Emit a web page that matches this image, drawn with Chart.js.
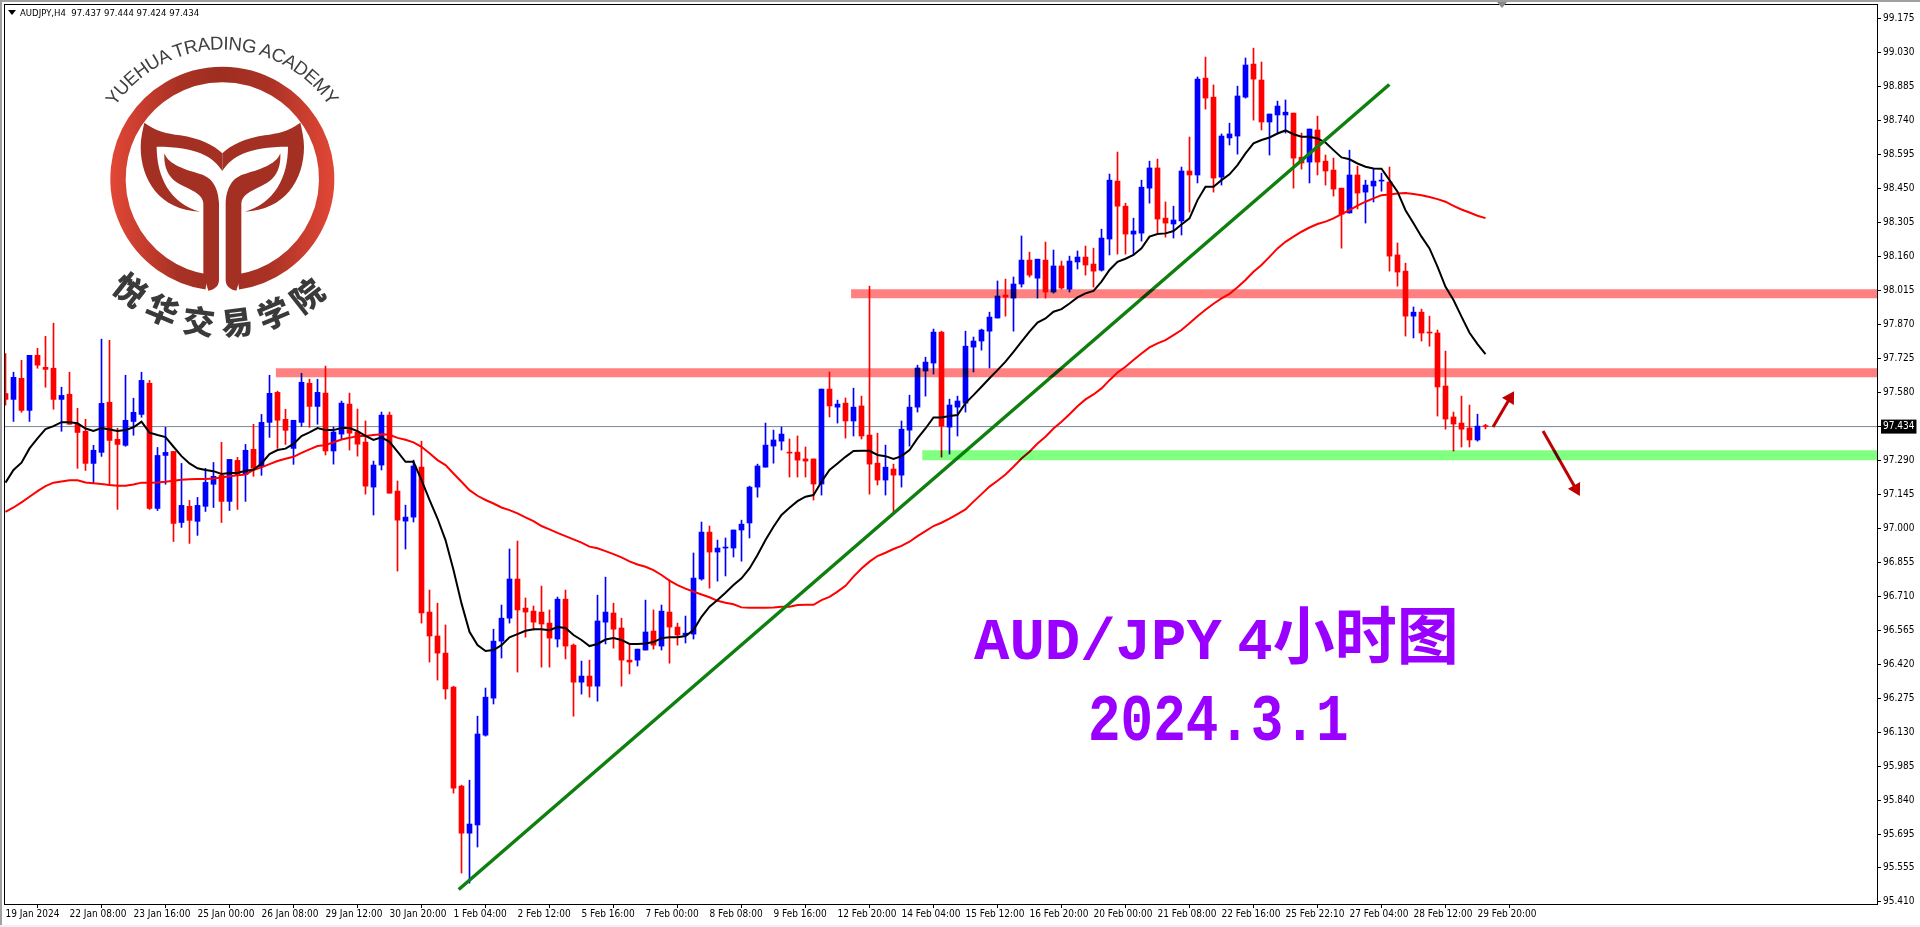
<!DOCTYPE html>
<html>
<head>
<meta charset="utf-8">
<title>AUD/JPY H4</title>
<script src="https://cdn.jsdelivr.net/npm/chart.js@4"></script>
<style>
html, body { margin: 0; padding: 0; background: #fff; width: 1920px; height: 927px; overflow: hidden; }
canvas { position: absolute; left: 0; top: 0; }
.winTop { position: absolute; left: 0; top: 0; width: 1920px; height: 2px; background: #a0a0a0; }
.winLeft { position: absolute; left: 0; top: 0; width: 2px; height: 925px; background: #a0a0a0; }
.winBottom { position: absolute; left: 0; top: 925px; width: 1920px; height: 2px; background: #f0f0f0; }
.shiftMark { position: absolute; left: 1497px; top: 2px; border-left: 5px solid transparent; border-right: 5px solid transparent; border-top: 6px solid #8a8a8a; }
.headerMark { position: absolute; left: 8px; top: 10px; border-left: 4px solid transparent; border-right: 4px solid transparent; border-top: 5px solid #000; }
#header { position: absolute; left: 20px; top: 6px; font: 9.5px "DejaVu Sans Condensed", "Liberation Sans", sans-serif; line-height: 13px; color: #000; white-space: pre; }
.bigTitle { position: absolute; font-family: "Liberation Mono", "Noto Sans CJK SC", monospace; font-weight: bold; font-size: 59px; line-height: 70px; color: #9900ff; white-space: pre; transform-origin: left center; }
.bigTitle .cjk { font-family: "Noto Sans CJK SC", sans-serif; font-size: 62px; }
#logo { position: absolute; left: 0; top: 0; }
</style>
</head>
<body>
<canvas id="myChart" width="1920" height="927"></canvas>
<div class="winTop"></div>
<div class="winLeft"></div>
<div class="winBottom"></div>
<div class="shiftMark"></div>
<div class="headerMark"></div>
<div id="header"></div>
<div class="bigTitle" style="left:974px; top:597px; word-spacing:-20px;">AUD/JPY 4<span class="cjk">小时图</span></div>
<div class="bigTitle" style="left:1088px; top:688px; transform:scale(0.92,1.13);">2024.3.1</div>

<svg id="logo" width="400" height="360" viewBox="0 0 1200 1080" xmlns="http://www.w3.org/2000/svg">
    <defs>
        <linearGradient id="ringGrad" gradientUnits="userSpaceOnUse" x1="331" y1="0" x2="1003" y2="0">
            <stop offset="0" stop-color="#e24736"/>
            <stop offset="0.3" stop-color="#a93225"/>
            <stop offset="0.5" stop-color="#9e2e20"/>
            <stop offset="0.7" stop-color="#a93225"/>
            <stop offset="1" stop-color="#e24736"/>
        </linearGradient>
        <path id="topArc" d="M345 320 A388 388 0 0 1 989 320" fill="none"/>
        <path id="bottomArc" d="M308 838 A468 468 0 0 0 1026 838" fill="none"/>
    </defs>
    <path d="M620 846 A313 313 0 1 1 714 846" fill="none" stroke="url(#ringGrad)" stroke-width="46"/>
    <g id="logoHalf" fill="#a33022">
        <path d="M610 610 L610 822 L625 872 C640 870 657 860 657 840 L657 610 C655 555 630 530 600 522 C560 510 505 495 493 460 C490 520 520 545 550 558 C585 575 608 585 610 610 Z"/>
        <path d="M433 368 C470 395 500 400 540 406 C600 415 640 435 667 460 L667 513 C640 470 590 440 470 440 C470 530 510 610 600 635 C480 630 422 540 422 440 C422 415 428 390 433 368 Z"/>
    </g>
    <use href="#logoHalf" transform="translate(1334 0) scale(-1 1)"/>
    <text font-family="Liberation Sans" font-size="56" fill="#404040">
        <textPath href="#topArc" textLength="758" lengthAdjust="spacing">YUEHUA TRADING ACADEMY</textPath>
    </text>
    <text font-family="Noto Sans CJK SC" font-weight="900" font-size="96" fill="#3a3a3a" letter-spacing="28" text-anchor="middle">
        <textPath href="#bottomArc" startOffset="50%">悦华交易学院</textPath>
    </text>
</svg>

<script>
var symbolName = "AUDJPY,H4";

var timeTickLabels = ["19 Jan 2024", "22 Jan 08:00", "23 Jan 16:00", "25 Jan 00:00", "26 Jan 08:00", "29 Jan 12:00",
    "30 Jan 20:00", "1 Feb 04:00", "2 Feb 12:00", "5 Feb 16:00", "7 Feb 00:00", "8 Feb 08:00", "9 Feb 16:00",
    "12 Feb 20:00", "14 Feb 04:00", "15 Feb 12:00", "16 Feb 20:00", "20 Feb 00:00", "21 Feb 08:00", "22 Feb 16:00",
    "25 Feb 22:10", "27 Feb 04:00", "28 Feb 12:00", "29 Feb 20:00"];
var barsPerTimeTick = 8;

var priceTicks = [99.175, 99.030, 98.885, 98.740, 98.595, 98.450, 98.305, 98.160, 98.015, 97.870, 97.725, 97.580,
    97.434, 97.290, 97.145, 97.000, 96.855, 96.710, 96.565, 96.420, 96.275, 96.130, 95.985, 95.840, 95.695, 95.555, 95.410];

var opens = [97.575,97.550,97.640,97.503,97.738,97.687,97.683,97.550,97.572,97.444,
    97.414,97.277,97.324,97.538,97.380,97.354,97.456,97.486,97.619,97.085,
    97.311,97.328,97.025,97.094,97.030,97.094,97.188,97.226,97.115,97.290,
    97.230,97.337,97.264,97.452,97.580,97.465,97.341,97.452,97.619,97.520,
    97.577,97.330,97.402,97.530,97.411,97.368,97.176,97.270,97.483,97.159,
    97.031,97.048,97.261,96.643,96.541,96.468,96.323,95.901,95.700,95.735,
    96.118,96.276,96.519,96.617,96.784,96.660,96.647,96.643,96.596,96.528,
    96.698,96.502,96.344,96.370,96.327,96.600,96.639,96.575,96.438,96.438,
    96.481,96.562,96.498,96.643,96.579,96.545,96.549,96.784,96.984,96.899,
    96.916,96.916,96.993,97.023,97.176,97.261,97.351,97.372,97.325,97.325,
    97.296,97.296,97.189,97.594,97.517,97.534,97.458,97.522,97.398,97.278,
    97.206,97.253,97.227,97.419,97.517,97.671,97.705,97.837,97.432,97.517,
    97.534,97.773,97.799,97.841,97.897,97.995,97.982,98.042,98.144,98.067,
    98.144,98.008,98.119,98.020,98.136,98.157,98.127,98.101,98.234,98.481,
    98.374,98.255,98.259,98.451,98.537,98.323,98.298,98.311,98.524,98.507,
    98.920,98.839,98.498,98.665,98.673,98.839,98.980,98.912,98.733,98.763,
    98.763,98.771,98.583,98.562,98.699,98.566,98.528,98.451,98.345,98.507,
    98.434,98.460,98.481,98.477,98.166,98.097,97.905,97.922,97.837,97.833,
    97.607,97.475,97.449,97.428,97.377,97.437];

var highs = [97.745,97.666,97.717,97.738,97.768,97.819,97.875,97.602,97.666,97.512,
    97.465,97.354,97.807,97.802,97.427,97.653,97.555,97.666,97.631,97.345,
    97.431,97.328,97.277,97.119,97.132,97.256,97.281,97.367,97.294,97.303,
    97.358,97.444,97.486,97.653,97.585,97.508,97.461,97.661,97.636,97.636,
    97.692,97.432,97.543,97.577,97.509,97.458,97.287,97.496,97.496,97.202,
    97.099,97.291,97.372,96.737,96.681,96.588,96.327,95.905,95.926,96.199,
    96.319,96.570,96.673,96.912,96.946,96.703,96.669,96.754,96.652,96.707,
    96.737,96.507,96.434,96.438,96.715,96.792,96.681,96.617,96.507,96.485,
    96.694,96.652,96.673,96.779,96.596,96.626,96.895,97.027,97.010,96.950,
    96.959,96.993,97.035,97.180,97.274,97.449,97.419,97.432,97.381,97.394,
    97.347,97.296,97.594,97.667,97.547,97.556,97.598,97.564,98.033,97.406,
    97.355,97.274,97.458,97.568,97.696,97.730,97.850,97.841,97.551,97.564,
    97.841,97.816,97.850,97.922,98.055,98.063,98.072,98.247,98.178,98.148,
    98.221,98.187,98.140,98.161,98.183,98.204,98.195,98.276,98.511,98.605,
    98.387,98.323,98.485,98.566,98.575,98.392,98.374,98.541,98.669,98.925,
    99.010,98.891,98.682,98.728,98.886,99.006,99.048,98.989,98.767,98.822,
    98.827,98.771,98.686,98.703,98.758,98.592,98.579,98.451,98.613,98.545,
    98.485,98.532,98.515,98.541,98.217,98.131,97.944,97.935,97.905,97.846,
    97.756,97.496,97.564,97.526,97.487,97.444];

var lows = [97.525,97.456,97.495,97.456,97.683,97.602,97.508,97.414,97.444,97.256,
    97.247,97.192,97.307,97.183,97.081,97.350,97.397,97.474,97.081,97.076,
    97.188,96.944,97.004,96.936,96.970,97.072,97.089,97.025,97.076,97.081,
    97.115,97.222,97.226,97.388,97.341,97.358,97.273,97.435,97.431,97.444,
    97.313,97.274,97.381,97.334,97.308,97.146,97.057,97.249,97.150,96.818,
    96.912,97.027,96.596,96.430,96.353,96.272,95.871,95.530,95.487,95.641,
    96.114,96.251,96.447,96.596,96.387,96.536,96.566,96.408,96.408,96.494,
    96.443,96.199,96.293,96.280,96.263,96.507,96.489,96.327,96.379,96.413,
    96.481,96.485,96.481,96.425,96.502,96.511,96.528,96.779,96.745,96.775,
    96.797,96.878,96.860,96.959,97.133,97.261,97.278,97.334,97.219,97.219,
    97.219,97.121,97.142,97.475,97.449,97.385,97.394,97.381,97.146,97.185,
    97.142,97.069,97.176,97.351,97.496,97.564,97.658,97.304,97.317,97.394,
    97.496,97.667,97.760,97.684,97.897,97.905,97.841,98.029,98.072,97.982,
    97.982,98.003,98.020,98.008,98.106,98.080,98.029,98.097,98.166,98.170,
    98.170,98.166,98.225,98.387,98.259,98.242,98.238,98.251,98.349,98.473,
    98.788,98.434,98.464,98.635,98.596,98.835,98.741,98.699,98.592,98.682,
    98.686,98.451,98.532,98.473,98.507,98.464,98.417,98.195,98.345,98.362,
    98.302,98.392,98.438,98.097,98.033,97.820,97.812,97.799,97.777,97.479,
    97.423,97.330,97.347,97.347,97.372,97.424];

var closes = [97.550,97.644,97.503,97.738,97.696,97.678,97.550,97.567,97.444,97.409,
    97.277,97.333,97.533,97.375,97.358,97.461,97.495,97.631,97.085,97.311,
    97.324,97.021,97.098,97.034,97.098,97.196,97.222,97.115,97.294,97.226,
    97.333,97.256,97.452,97.576,97.461,97.418,97.461,97.623,97.520,97.580,
    97.330,97.411,97.534,97.406,97.359,97.180,97.270,97.483,97.150,97.035,
    97.048,97.266,96.639,96.541,96.468,96.315,95.892,95.700,95.739,96.123,
    96.280,96.519,96.617,96.784,96.652,96.643,96.600,96.592,96.532,96.698,
    96.498,96.344,96.370,96.327,96.605,96.643,96.570,96.438,96.430,96.485,
    96.558,96.502,96.647,96.579,96.545,96.553,96.788,96.984,96.899,96.916,
    96.920,96.993,97.018,97.176,97.266,97.355,97.377,97.402,97.321,97.291,
    97.287,97.189,97.594,97.522,97.530,97.458,97.517,97.394,97.274,97.206,
    97.261,97.227,97.423,97.517,97.684,97.709,97.837,97.436,97.526,97.543,
    97.777,97.799,97.846,97.901,97.991,97.986,98.042,98.144,98.080,98.148,
    98.008,98.119,98.025,98.140,98.157,98.123,98.097,98.238,98.485,98.374,
    98.255,98.268,98.455,98.537,98.319,98.302,98.315,98.524,98.507,98.916,
    98.835,98.494,98.673,98.682,98.844,98.976,98.916,98.733,98.767,98.801,
    98.775,98.579,98.558,98.703,98.562,98.524,98.447,98.340,98.507,98.430,
    98.464,98.481,98.485,98.161,98.093,97.905,97.922,97.833,97.833,97.603,
    97.466,97.445,97.423,97.377,97.436,97.434];

var fastAverage = [97.195,97.249,97.280,97.341,97.384,97.423,97.436,97.453,97.453,97.448,
    97.426,97.415,97.428,97.422,97.415,97.419,97.431,97.455,97.408,97.398,
    97.389,97.348,97.308,97.277,97.256,97.249,97.244,97.232,97.236,97.236,
    97.246,97.250,97.277,97.317,97.334,97.340,97.360,97.394,97.409,97.428,
    97.419,97.419,97.428,97.428,97.415,97.394,97.377,97.388,97.369,97.327,
    97.284,97.284,97.206,97.121,97.042,96.950,96.822,96.680,96.559,96.502,
    96.477,96.481,96.502,96.535,96.549,96.563,96.570,96.570,96.566,96.579,
    96.575,96.545,96.524,96.498,96.507,96.526,96.532,96.524,96.507,96.507,
    96.509,96.515,96.532,96.536,96.536,96.541,96.566,96.623,96.666,96.694,
    96.725,96.758,96.787,96.829,96.886,96.950,97.007,97.057,97.088,97.116,
    97.135,97.142,97.199,97.249,97.277,97.305,97.330,97.331,97.331,97.313,
    97.308,97.296,97.308,97.334,97.384,97.426,97.473,97.473,97.479,97.483,
    97.534,97.568,97.604,97.640,97.675,97.711,97.753,97.796,97.839,97.878,
    97.895,97.924,97.935,97.959,97.985,98.002,98.013,98.052,98.102,98.137,
    98.150,98.166,98.194,98.244,98.255,98.258,98.268,98.296,98.322,98.400,
    98.457,98.457,98.485,98.510,98.549,98.599,98.642,98.656,98.667,98.684,
    98.697,98.681,98.670,98.670,98.663,98.645,98.613,98.582,98.574,98.556,
    98.542,98.535,98.534,98.485,98.436,98.357,98.301,98.244,98.194,98.116,
    98.030,97.974,97.903,97.834,97.786,97.743];

var slowAverage = [97.070,97.089,97.111,97.135,97.159,97.180,97.195,97.200,97.205,97.205,
    97.196,97.192,97.189,97.185,97.182,97.182,97.187,97.195,97.195,97.196,
    97.199,97.203,97.207,97.209,97.210,97.210,97.213,97.217,97.222,97.226,
    97.230,97.249,97.260,97.274,97.287,97.297,97.305,97.322,97.337,97.351,
    97.355,97.367,97.379,97.386,97.394,97.394,97.398,97.401,97.399,97.386,
    97.378,97.367,97.348,97.320,97.291,97.270,97.234,97.199,97.163,97.139,
    97.121,97.106,97.089,97.078,97.064,97.047,97.031,97.010,96.996,96.981,
    96.967,96.953,96.939,96.922,96.915,96.903,96.890,96.876,96.859,96.846,
    96.836,96.822,96.801,96.777,96.758,96.743,96.730,96.718,96.706,96.691,
    96.683,96.676,96.663,96.661,96.661,96.661,96.663,96.666,96.666,96.673,
    96.674,96.674,96.694,96.708,96.730,96.755,96.794,96.829,96.858,96.882,
    96.896,96.912,96.925,96.943,96.967,96.988,97.010,97.024,97.042,97.061,
    97.081,97.114,97.146,97.178,97.203,97.230,97.263,97.298,97.327,97.362,
    97.391,97.426,97.455,97.487,97.521,97.550,97.571,97.597,97.632,97.665,
    97.689,97.718,97.746,97.772,97.789,97.803,97.824,97.846,97.875,97.905,
    97.932,97.958,97.981,98.000,98.028,98.059,98.094,98.123,98.158,98.194,
    98.222,98.244,98.265,98.283,98.298,98.308,98.322,98.340,98.357,98.376,
    98.393,98.407,98.421,98.424,98.428,98.430,98.426,98.421,98.413,98.404,
    98.393,98.375,98.360,98.347,98.333,98.323];

// drawn objects, in bar number / price
var axisFirstBar = -0.0625, axisLastBar = 233.9375;
var axisTopPrice = 99.232, axisBottomPrice = 95.398;
var resistanceLow = 97.664, resistanceLowStart = 33.8;
var resistanceHigh = 98.001, resistanceHighStart = 105.7;
var supportLevel = 97.312, supportStart = 114.6;
var trendBars = [56.65, 172.98], trendPrices = [95.460, 98.893];
var arrowUpBars = [185.94, 188.06], arrowUpPrices = [97.432, 97.556];
var arrowDownBars = [192.19, 196.31], arrowDownPrices = [97.415, 97.168];

var COLOR_UP = "#0000ff";
var COLOR_DOWN = "#ff0000";
var AXIS_FONT = { family: "'DejaVu Sans Condensed', 'Liberation Sans', sans-serif", size: 10 };

function toPoints(bars, prices) {
    return bars.map(function(bar, index) {
        return { x: bar, y: prices[index] };
    });
}

function levelLine(label, price, startBar, color, width) {
    return {
        type: "line",
        label: label,
        data: toPoints([startBar, axisLastBar], [price, price]),
        borderColor: color,
        borderWidth: width,
        pointRadius: 0,
        multiply: true,
        order: 1
    };
}

function arrowLine(label, bars, prices, rotation) {
    return {
        type: "line",
        label: label,
        data: toPoints(bars, prices),
        borderColor: "#c00000",
        backgroundColor: "#c00000",
        borderWidth: 3,
        pointStyle: "triangle",
        pointRadius: [0, 8],
        pointBorderWidth: 0,
        pointRotation: rotation,
        order: 2
    };
}

function averageLine(label, values, color, order) {
    return {
        type: "line",
        label: label,
        data: values.map(function(value, index) { return { x: index, y: value }; }),
        borderColor: color,
        borderWidth: 2,
        pointRadius: 0,
        order: order
    };
}

function candleColors() {
    return closes.map(function(close, index) {
        return close >= opens[index] ? COLOR_UP : COLOR_DOWN;
    });
}

// rectangles on the chart are blended like MT4 objects: blue goes navy under pink
var multiplyPlugin = {
    id: "multiplyBlend",
    beforeDatasetDraw: function(chart, args) {
        if (chart.data.datasets[args.index].multiply) {
            chart.ctx.save();
            chart.ctx.globalCompositeOperation = "multiply";
        }
    },
    afterDatasetDraw: function(chart, args) {
        if (chart.data.datasets[args.index].multiply) {
            chart.ctx.restore();
        }
    }
};

var framePlugin = {
    id: "chartFrame",
    afterDraw: function(chart) {
        var area = chart.chartArea;
        var ctx = chart.ctx;
        ctx.save();
        ctx.strokeStyle = "#000";
        ctx.lineWidth = 1;
        ctx.strokeRect(area.left - 0.5, area.top - 0.5, area.width + 1, area.height + 1);
        ctx.restore();
    }
};

function clearScalePadding(scale) {
    scale.paddingTop = 0;
    scale.paddingBottom = 0;
    scale.paddingLeft = 0;
    scale.paddingRight = 0;
}

function buildChart() {
    var colors = candleColors();
    var lastPrice = closes[closes.length - 1];

    return new Chart(document.getElementById("myChart"), {
        type: "bar",
        data: {
            datasets: [
                levelLine("Resistance low", resistanceLow, resistanceLowStart, "#ff8080", 9),
                levelLine("Resistance high", resistanceHigh, resistanceHighStart, "#ff8080", 9),
                levelLine("Support", supportLevel, supportStart, "#80ff80", 10),
                arrowLine("Arrow up", arrowUpBars, arrowUpPrices, 31),
                arrowLine("Arrow down", arrowDownBars, arrowDownPrices, 151),
                {
                    type: "line",
                    label: "Trend",
                    data: toPoints(trendBars, trendPrices),
                    borderColor: "#0f7f0f",
                    borderWidth: 3.5,
                    pointRadius: 0,
                    order: 3
                },
                averageLine("Fast average", fastAverage, "#000000", 4),
                averageLine("Slow average", slowAverage, "#ff0000", 5),
                {
                    label: "Body",
                    data: opens.map(function(open, index) { return { x: index, y: [open, closes[index]] }; }),
                    backgroundColor: colors,
                    maxBarThickness: 5,
                    minBarLength: 1,
                    barPercentage: 1,
                    categoryPercentage: 1,
                    grouped: false,
                    order: 6
                },
                {
                    label: "Wick",
                    data: highs.map(function(high, index) { return { x: index, y: [lows[index], high] }; }),
                    backgroundColor: colors,
                    maxBarThickness: 1,
                    barPercentage: 1,
                    categoryPercentage: 1,
                    grouped: false,
                    order: 7
                },
                {
                    type: "line",
                    label: "Price",
                    data: toPoints([axisFirstBar, axisLastBar], [lastPrice, lastPrice]),
                    borderColor: "#778899",
                    borderWidth: 1,
                    pointRadius: 0,
                    order: 8
                }
            ]
        },
        options: {
            responsive: false,
            animation: false,
            events: [],
            layout: { autoPadding: false, padding: { left: 5, top: 5, right: 0, bottom: 0 } },
            plugins: { legend: { display: false }, tooltip: { enabled: false } },
            scales: {
                x: {
                    type: "linear",
                    offset: false,
                    min: axisFirstBar,
                    max: axisLastBar,
                    border: { display: false },
                    grid: { drawOnChartArea: false, drawTicks: true, tickLength: 4, tickColor: "#000" },
                    afterBuildTicks: function(scale) {
                        scale.ticks = timeTickLabels.map(function(label, index) {
                            return { value: index * barsPerTimeTick };
                        });
                    },
                    afterFit: function(scale) {
                        scale.height = 23;
                        clearScalePadding(scale);
                    },
                    ticks: {
                        autoSkip: false,
                        maxRotation: 0,
                        align: "start",
                        color: "#000",
                        padding: 0,
                        font: AXIS_FONT,
                        callback: function(value, index) { return timeTickLabels[index]; }
                    }
                },
                y: {
                    position: "right",
                    min: axisBottomPrice,
                    max: axisTopPrice,
                    border: { display: false },
                    grid: { drawOnChartArea: false, drawTicks: true, tickLength: 4, tickColor: "#000" },
                    afterBuildTicks: function(scale) {
                        scale.ticks = priceTicks.map(function(price) { return { value: price }; });
                    },
                    afterFit: function(scale) {
                        scale.width = 43;
                        clearScalePadding(scale);
                    },
                    ticks: {
                        autoSkip: false,
                        padding: 2,
                        font: AXIS_FONT,
                        showLabelBackdrop: function(ctx) { return ctx.tick.value === lastPrice; },
                        backdropColor: "#000",
                        backdropPadding: { x: 2, y: 1 },
                        color: function(ctx) { return ctx.tick.value === lastPrice ? "#fff" : "#000"; },
                        callback: function(value) { return value.toFixed(3); }
                    }
                }
            }
        },
        plugins: [multiplyPlugin, framePlugin]
    });
}

function fillHeader() {
    var last = opens.length - 1;
    var values = [opens[last], highs[last], lows[last], closes[last]].map(function(value) {
        return value.toFixed(3);
    });
    document.getElementById("header").textContent = symbolName + "  " + values.join(" ");
}

fillHeader();
buildChart();
</script>
</body>
</html>
